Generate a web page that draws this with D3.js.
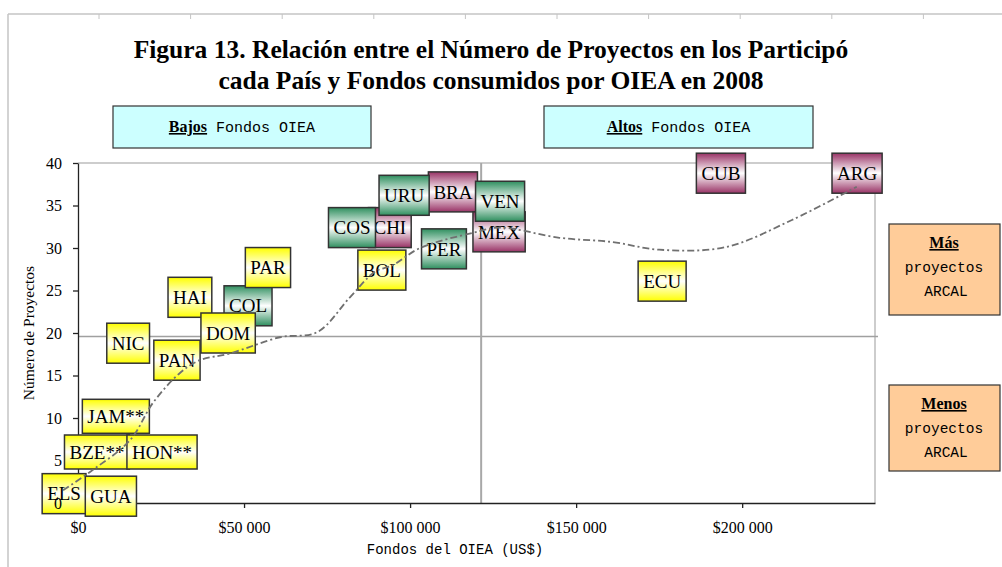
<!DOCTYPE html>
<html>
<head>
<meta charset="utf-8">
<script src="https://cdn.jsdelivr.net/npm/d3@7"></script>
<style>
  body { margin: 0; background: #fff; }
  svg { display: block; }
</style>
</head>
<body>
<svg width="1002" height="567"></svg>
<script>
// datos (orden = orden de dibujo)
const paises    = ["ELS", "GUA", "BZE**", "HON**", "JAM**", "NIC", "PAN", "HAI", "COL", "DOM", "PAR",
                   "CHI", "COS", "BRA", "URU", "BOL", "MEX", "VEN", "PER", "ECU", "CUB", "ARG"];
const fondos    = [-4200, 9900, 5700, 25300, 11400, 15100, 29800, 33700, 51200, 45200, 57200,
                   93900, 82500, 112900, 98200, 91500, 126800, 127100, 110200, 175900, 193600, 234600];
const proyectos = [1.1, 0.8, 6.0, 6.0, 10.2, 18.8, 16.8, 24.2, 23.2, 20.0, 27.7,
                   32.4, 32.4, 36.6, 36.2, 27.4, 31.9, 35.5, 29.9, 26.1, 38.8, 38.8];
const grupos    = ["a", "a", "a", "a", "a", "a", "a", "a", "v", "a", "a",
                   "m", "v", "m", "v", "a", "m", "v", "v", "a", "m", "m"];

// linea de tendencia (punto y raya)
const tendX = [-4500, 4500, 15700, 22600, 30700, 36700, 45800, 60800, 72000, 81900, 89400, 94900,
               103000, 119000, 127000, 145000, 161000, 175000, 195000, 215000, 234500];
const tendY = [1.5, 3.9, 7.4, 11.8, 15.3, 16.8, 17.6, 19.5, 20.1, 24.2, 27.2, 28.0,
               30.0, 31.8, 32.4, 31.2, 30.7, 29.8, 30.1, 33.3, 37.2];

const xTicks = [0, 50000, 100000, 150000, 200000];
const yTicks = [0, 5, 10, 15, 20, 25, 30, 35, 40];
const lineaFondos = 121400;
const lineaProyectos = 19.6;

const colores = {a: "#ffff00", v: "#2f8f5f", m: "#993366"};

const svg = d3.select("svg");
const margin = {top: 163, right: 127, bottom: 64, left: 78};
const width = 1002 - margin.left - margin.right,
      height = 567 - margin.top - margin.bottom;

const serif = "'Liberation Serif', 'Times New Roman', serif";
const mono = "'Liberation Mono', 'Courier New', monospace";

// marco de la hoja
svg.append("line").attr("x1", 8).attr("x2", 8).attr("y1", 14).attr("y2", 567)
  .attr("stroke", "#c4c4c4").attr("stroke-width", 1.5);
svg.append("line").attr("x1", 8).attr("x2", 1002).attr("y1", 14).attr("y2", 14)
  .attr("stroke", "#c4c4c4").attr("stroke-width", 1.5);
svg.append("g").selectAll("line").data(d3.range(99, 1002, 91.6)).join("line")
  .attr("x1", d => d).attr("x2", d => d).attr("y1", 14).attr("y2", 19)
  .attr("stroke", "#c4c4c4");

// titulo
svg.append("text").attr("x", 491).attr("y", 58).attr("text-anchor", "middle")
  .style("font-family", serif).style("font-weight", "bold").style("font-size", "25.5px")
  .text("Figura 13. Relación entre el Número de Proyectos en los Participó");
svg.append("text").attr("x", 491).attr("y", 89).attr("text-anchor", "middle")
  .style("font-family", serif).style("font-weight", "bold").style("font-size", "25.5px")
  .text("cada País y Fondos consumidos por OIEA en 2008");

// cuadros de leyenda superiores
const cajaTop = [
  {x: 113, w: 258, b: "Bajos", t: " Fondos OIEA"},
  {x: 544, w: 269, b: "Altos", t: " Fondos OIEA"}
];
cajaTop.forEach(c => {
  svg.append("rect").attr("x", c.x).attr("y", 106).attr("width", c.w).attr("height", 42)
    .attr("fill", "#ccffff").attr("stroke", "#333").attr("stroke-width", 1.2);
  const t = svg.append("text").attr("x", c.x + c.w / 2).attr("y", 132).attr("text-anchor", "middle")
    .style("font-family", mono).style("font-size", "15px");
  t.append("tspan").style("font-family", serif).style("font-weight", "bold")
    .style("text-decoration", "underline").style("font-size", "16px").text(c.b);
  t.append("tspan").text(c.t);
});

// cuadros de la derecha
const cajaDer = [{y: 224, h: 91, b: "Más"}, {y: 385, h: 86, b: "Menos"}];
cajaDer.forEach(c => {
  svg.append("rect").attr("x", 889).attr("y", c.y).attr("width", 111).attr("height", c.h)
    .attr("fill", "#ffcc99").attr("stroke", "#333").attr("stroke-width", 1.2);
  svg.append("text").attr("x", 944).attr("y", c.y + 24).attr("text-anchor", "middle")
    .style("font-family", serif).style("font-weight", "bold").style("font-size", "16px")
    .style("text-decoration", "underline").text(c.b);
  svg.append("text").attr("x", 944).attr("y", c.y + 48).attr("text-anchor", "middle")
    .style("font-family", mono).style("font-size", "14.5px").text("proyectos");
  svg.append("text").attr("x", 946).attr("y", c.y + 72).attr("text-anchor", "middle")
    .style("font-family", mono).style("font-size", "14.5px").text("ARCAL");
});

const g = svg.append("g").attr("transform", `translate(${margin.left},${margin.top})`);

const x = d3.scaleLinear().domain([0, 240000]).range([0, width]);
const y = d3.scaleLinear().domain([0, 40]).range([height, 0]);

const fmt = d3.formatLocale({decimal: ",", thousands: " ", grouping: [3], currency: ["$", ""]})
  .format("$,.0f");

// borde del area de trazado
g.append("path").attr("d", `M0,0H${width}V${height}`)
  .attr("fill", "none").attr("stroke", "#bdbdbd").attr("stroke-width", 1.5);

// lineas divisorias
g.append("line").attr("x1", 0).attr("x2", width + 3)
  .attr("y1", y(lineaProyectos)).attr("y2", y(lineaProyectos))
  .attr("stroke", "#a0a0a0").attr("stroke-width", 1.5);
g.append("line").attr("x1", x(lineaFondos)).attr("x2", x(lineaFondos))
  .attr("y1", 0).attr("y2", height)
  .attr("stroke", "#a8a8a8").attr("stroke-width", 2);

// ejes (lineas)
const ax = g.append("g").attr("transform", `translate(0,${height})`)
  .call(d3.axisBottom(x).tickValues(xTicks).tickFormat(fmt).tickSize(5).tickSizeOuter(0));
ax.selectAll("text").attr("dy", "1.4em")
  .style("font-family", serif).style("font-size", "16px");
const ay = g.append("g")
  .call(d3.axisLeft(y).tickValues(yTicks).tickSize(5).tickSizeOuter(0));
ay.selectAll("text").remove();
g.selectAll(".domain, .tick line").attr("stroke", "#222").attr("stroke-width", 1.3);

svg.append("text").attr("transform", "translate(34,333) rotate(-90)").attr("text-anchor", "middle")
  .style("font-family", serif).style("font-size", "15.5px").text("Número de Proyectos");
svg.append("text").attr("x", 455).attr("y", 554).attr("text-anchor", "middle")
  .style("font-family", mono).style("font-size", "14px").text("Fondos del OIEA  (US$)");

// degradados
const defs = svg.append("defs");
Object.entries(colores).forEach(([k, c]) => {
  const lg = defs.append("linearGradient").attr("id", "grad-" + k)
    .attr("x1", 0).attr("y1", 0).attr("x2", 0).attr("y2", 1);
  lg.append("stop").attr("offset", "0%").attr("stop-color", c);
  lg.append("stop").attr("offset", "50%").attr("stop-color", "#ffffff");
  lg.append("stop").attr("offset", "100%").attr("stop-color", c);
});

const datos = paises.map((p, i) => ({pais: p, fondos: fondos[i], proyectos: proyectos[i], grupo: grupos[i]}));

// etiquetas de paises
const etiq = g.append("g").selectAll("g").data(datos).join("g")
  .attr("transform", d => `translate(${x(d.fondos)},${y(d.proyectos)})`);
etiq.append("rect").attr("fill", d => `url(#grad-${d.grupo})`)
  .attr("stroke", "#333").attr("stroke-width", 1.5);
etiq.append("text").attr("text-anchor", "middle").attr("dy", "0.35em")
  .style("font-family", serif).style("font-size", "19px").text(d => d.pais);
etiq.each(function(d) {
  const tw = d3.select(this).select("text").node().getComputedTextLength();
  const w = tw + 10, h = d.pais.includes("*") ? 34 : 40;
  d3.select(this).select("rect").attr("x", -w / 2).attr("y", -h / 2).attr("width", w).attr("height", h);
});

// numeros del eje Y por encima de las etiquetas (como en la figura)
g.append("g")
  .call(d3.axisLeft(y).tickValues(yTicks).tickSize(5).tickSizeOuter(0))
  .call(a => a.select(".domain").remove())
  .call(a => a.selectAll(".tick line").remove())
  .selectAll("text").attr("x", -16)
  .style("font-family", serif).style("font-size", "16px");

// tendencia
const linea = d3.line().x((d, i) => x(tendX[i])).y(d => y(d)).curve(d3.curveCatmullRom);
g.append("path").datum(tendY).attr("d", linea)
  .attr("fill", "none").attr("stroke", "#707070").attr("stroke-width", 1.8)
  .attr("stroke-dasharray", "7,3,2,3");
</script>
</body>
</html>
